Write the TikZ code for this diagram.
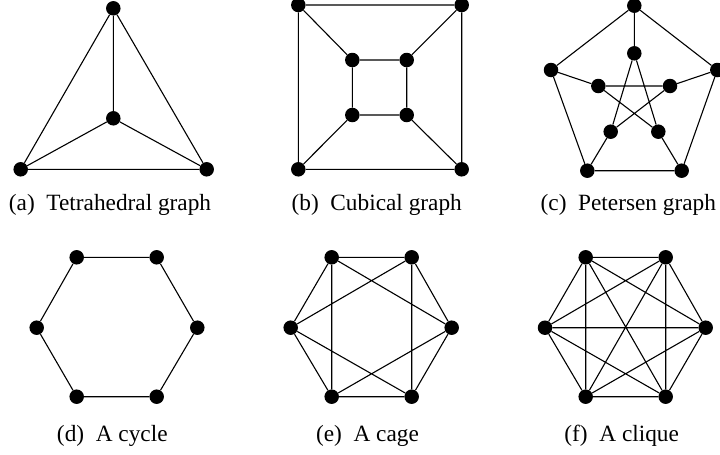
\documentclass[tikz,border=0pt]{standalone}
\usepackage{fontspec}
\setmainfont{Liberation Serif}
\begin{document}
\begin{tikzpicture}[x=1pt,y=-1pt,
  vtx/.style={circle,fill=black,inner sep=0pt,minimum size=14.5pt},
  edge/.style={line width=1.1pt},
  subcap/.style={font=\fontsize{23.3}{28}\selectfont,inner sep=0pt,anchor=center}]
\useasboundingbox (0,0) rectangle (720,455);
\clip (0,0) rectangle (720,455);
% (a) tetrahedral
\node[vtx] (a1) at (113.3,8.3) {};
\node[vtx] (a2) at (113.3,118.3) {};
\node[vtx] (a3) at (20.7,169.3) {};
\node[vtx] (a4) at (206.7,169.3) {};
\draw[edge] (a1)--(a2) (a1)--(a3) (a1)--(a4) (a2)--(a3) (a2)--(a4) (a3)--(a4);
\node[subcap] (ca) at (110,205) {(a)\enspace Tetrahedral graph};
% (b) cubical
\node[vtx] (b1) at (298.3,5) {};
\node[vtx] (b2) at (461.7,5) {};
\node[vtx] (b3) at (461.7,169.3) {};
\node[vtx] (b4) at (298.3,169.3) {};
\node[vtx] (b5) at (352.3,60) {};
\node[vtx] (b6) at (406.7,60) {};
\node[vtx] (b7) at (406.7,115) {};
\node[vtx] (b8) at (352.3,115) {};
\draw[edge] (b1)--(b2)--(b3)--(b4)--(b1) (b5)--(b6)--(b7)--(b8)--(b5)
  (b1)--(b5) (b2)--(b6) (b3)--(b7) (b4)--(b8);
\node[subcap] (cb) at (376.7,205) {(b)\enspace Cubical graph};
% (c) Petersen
\node[vtx] (p1) at (634.3,5.7) {};
\node[vtx] (p2) at (717.3,70) {};
\node[vtx] (p3) at (681.7,170.7) {};
\node[vtx] (p4) at (587.3,170.7) {};
\node[vtx] (p5) at (551,70) {};
\node[vtx] (q1) at (634.3,53.3) {};
\node[vtx] (q2) at (670,86) {};
\node[vtx] (q3) at (658.3,131.7) {};
\node[vtx] (q4) at (610.7,131.7) {};
\node[vtx] (q5) at (598.3,86) {};
\draw[edge] (p1)--(p2)--(p3)--(p4)--(p5)--(p1)
  (p1)--(q1) (p2)--(q2) (p3)--(q3) (p4)--(q4) (p5)--(q5)
  (q1)--(q3)--(q5)--(q2)--(q4)--(q1);
\node[subcap] (cc) at (628.3,205) {(c)\enspace Petersen graph};
% (d) cycle
\node[vtx] (d1) at (76.7,257.3) {};
\node[vtx] (d2) at (156.7,257.3) {};
\node[vtx] (d3) at (197.3,327.7) {};
\node[vtx] (d4) at (156.7,396.7) {};
\node[vtx] (d5) at (76.7,396.7) {};
\node[vtx] (d6) at (36.7,327.7) {};
\draw[edge] (d1)--(d2)--(d3)--(d4)--(d5)--(d6)--(d1);
\node[subcap] (cd) at (112.3,435.5) {(d)\enspace A cycle};
% (e) cage
\node[vtx] (e1) at (331.7,257.3) {};
\node[vtx] (e2) at (411.7,257.3) {};
\node[vtx] (e3) at (451.7,327.7) {};
\node[vtx] (e4) at (411.7,396.7) {};
\node[vtx] (e5) at (331.7,396.7) {};
\node[vtx] (e6) at (290.7,327.7) {};
\draw[edge] (e1)--(e2)--(e3)--(e4)--(e5)--(e6)--(e1)
  (e1)--(e5) (e2)--(e4) (e1)--(e3) (e2)--(e6) (e6)--(e4) (e3)--(e5);
\node[subcap] (ce) at (367.5,435.5) {(e)\enspace A cage};
% (f) clique
\node[vtx] (f1) at (585.7,257.3) {};
\node[vtx] (f2) at (665.7,257.3) {};
\node[vtx] (f3) at (705.7,327.7) {};
\node[vtx] (f4) at (665.7,396.7) {};
\node[vtx] (f5) at (585.7,396.7) {};
\node[vtx] (f6) at (545,327.7) {};
\draw[edge] (f1)--(f2) (f1)--(f3) (f1)--(f4) (f1)--(f5) (f1)--(f6)
  (f2)--(f3) (f2)--(f4) (f2)--(f5) (f2)--(f6)
  (f3)--(f4) (f3)--(f5) (f3)--(f6)
  (f4)--(f5) (f4)--(f6) (f5)--(f6);
\node[subcap] (cf) at (621.7,435.5) {(f)\enspace A clique};
\end{tikzpicture}
\end{document}
